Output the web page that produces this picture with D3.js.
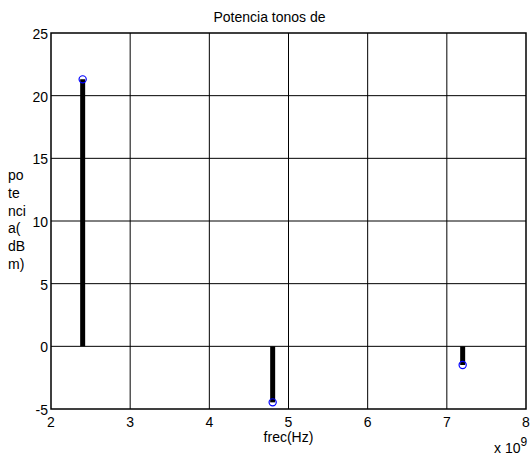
<!doctype html>
<html lang="es">
<head>
<meta charset="utf-8">
<script src="https://cdn.jsdelivr.net/npm/d3@7"></script>
<style>
  body { margin: 0; background: #fff; }
  svg text { font-family: "Liberation Sans", Arial, sans-serif; fill: #000; }
</style>
</head>
<body>
<div id="chart"></div>
<script>
  // tonos (Hz) y potencia (dBm)
  var freqs = [2.4e9, 4.8e9, 7.2e9];
  var power = [21.3, -4.47, -1.49];
  var xTicks = [2, 3, 4, 5, 6, 7, 8];
  var yTicks = [-5, 0, 5, 10, 15, 20, 25];
  var yLabelLines = ["po", "te", "nci", "a(", "dB", "m)"];

  var W = 531, H = 455;
  var plotL = 51, plotR = 526, plotT = 33, plotB = 409;

  var svg = d3.select("#chart").append("svg")
    .attr("width", W)
    .attr("height", H);

  // x en unidades de 1e9
  var x = d3.scaleLinear().domain([2, 8]).range([plotL, plotR]);
  var y = d3.scaleLinear().domain([-5, 25]).range([plotB, plotT]);

  // rejilla
  svg.append("g")
    .selectAll("line")
    .data(xTicks.slice(1, -1))
    .join("line")
    .attr("x1", d => x(d)).attr("x2", d => x(d))
    .attr("y1", plotT).attr("y2", plotB)
    .attr("stroke", "#000").attr("stroke-width", 1);

  svg.append("g")
    .selectAll("line")
    .data(yTicks.slice(1, -1))
    .join("line")
    .attr("x1", plotL).attr("x2", plotR)
    .attr("y1", d => y(d)).attr("y2", d => y(d))
    .attr("stroke", "#000").attr("stroke-width", 1);

  // stems
  var data = freqs.map((f, i) => ({f: f / 1e9, p: power[i]}));

  svg.append("g")
    .selectAll("line")
    .data(data)
    .join("line")
    .attr("x1", d => x(d.f)).attr("x2", d => x(d.f))
    .attr("y1", y(0)).attr("y2", d => y(d.p))
    .attr("stroke", "#000").attr("stroke-width", 5);

  svg.append("g")
    .selectAll("circle")
    .data(data)
    .join("circle")
    .attr("cx", d => x(d.f))
    .attr("cy", d => y(d.p))
    .attr("r", 3.6)
    .attr("fill", "none")
    .attr("stroke", "#0000ff")
    .attr("stroke-width", 1.2);

  // marco
  svg.append("rect")
    .attr("x", plotL).attr("y", plotT)
    .attr("width", plotR - plotL).attr("height", plotB - plotT)
    .attr("fill", "none").attr("stroke", "#000").attr("stroke-width", 1.5);

  // etiquetas de ejes
  svg.append("g")
    .selectAll("text")
    .data(yTicks)
    .join("text")
    .attr("x", plotL - 3)
    .attr("y", d => y(d) + 6)
    .attr("text-anchor", "end")
    .attr("font-size", 14)
    .text(d => d);

  svg.append("g")
    .selectAll("text")
    .data(xTicks)
    .join("text")
    .attr("x", d => x(d))
    .attr("y", 427)
    .attr("text-anchor", "middle")
    .attr("font-size", 14)
    .text(d => d);

  svg.append("text")
    .attr("x", (plotL + plotR) / 2)
    .attr("y", 442)
    .attr("text-anchor", "middle")
    .attr("font-size", 14)
    .text("frec(Hz)");

  var ex = svg.append("text")
    .attr("x", 494)
    .attr("y", 453)
    .attr("font-size", 14);
  ex.append("tspan").text("x 10");
  ex.append("tspan").attr("dy", -7).attr("font-size", 12).text("9");

  svg.append("text")
    .attr("x", 269.5)
    .attr("y", 22)
    .attr("text-anchor", "middle")
    .attr("font-size", 14)
    .text("Potencia tonos de");

  svg.append("g")
    .selectAll("text")
    .data(yLabelLines)
    .join("text")
    .attr("x", 8)
    .attr("y", (d, i) => 180 + i * 17.8)
    .attr("font-size", 14)
    .text(d => d);
</script>
</body>
</html>
